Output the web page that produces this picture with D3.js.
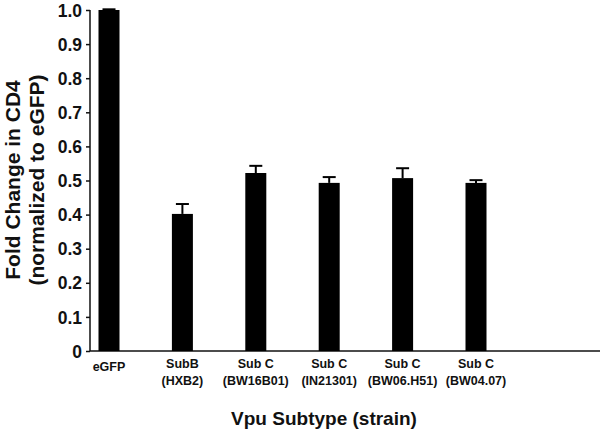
<!DOCTYPE html>
<html><head><meta charset="utf-8">
<script src="https://cdn.jsdelivr.net/npm/d3@7"></script>
<style>body{margin:0;background:#fff}svg{display:block}text{font-family:"Liberation Sans",Arial,Helvetica,sans-serif;font-weight:bold;fill:#111}</style>
</head><body><svg id="c" width="600" height="432"></svg>
<script>
const categories = ["eGFP", "SubB|(HXB2)", "Sub C|(BW16B01)", "Sub C|(IN21301)", "Sub C|(BW06.H51)", "Sub C|(BW04.07)"];
const values = [1.0, 0.402, 0.522, 0.493, 0.507, 0.493];
const errors = [0.002, 0.029, 0.021, 0.017, 0.029, 0.008];
const yTicks = [0, 0.1, 0.2, 0.3, 0.4, 0.5, 0.6, 0.7, 0.8, 0.9, 1.0];

const svg = d3.select("#c");
const y = d3.scaleLinear().domain([0, 1]).range([351, 10]);
const x = d3.scalePoint().domain(categories).range([109, 476]);
const bw = 21;

// y axis
const ya = svg.append("g").attr("transform", "translate(90,0)")
  .call(d3.axisLeft(y).tickValues(yTicks).tickSize(4).tickPadding(4)
    .tickFormat(d => d === 0 ? "0" : d3.format(".1f")(d)));
ya.select(".domain").attr("stroke", "#111").attr("stroke-width", 1.5).attr("d", "M0," + y(1) + "V" + y(0));
ya.selectAll(".tick line").attr("stroke", "#111").attr("stroke-width", 1.5);
ya.selectAll(".tick text").attr("font-size", 17.5).attr("fill", "#111").attr("dy", "0.35em");

// x axis line
svg.append("line").attr("x1", 90).attr("x2", 600).attr("y1", y(0)).attr("y2", y(0))
  .attr("stroke", "#111").attr("stroke-width", 1.5);

// bars
svg.selectAll("rect.bar").data(values).enter().append("rect")
  .attr("x", (d, i) => x(categories[i]) - bw / 2)
  .attr("y", d => y(d)).attr("width", bw).attr("height", d => y(0) - y(d))
  .attr("fill", "#000");

// error bars
const eg = svg.append("g").attr("stroke", "#000").attr("stroke-width", 2);
values.forEach((v, i) => {
  const cx = x(categories[i]);
  eg.append("line").attr("x1", cx).attr("x2", cx).attr("y1", y(v)).attr("y2", y(v + errors[i]));
  eg.append("line").attr("x1", cx - 6.5).attr("x2", cx + 6.5).attr("y1", y(v + errors[i])).attr("y2", y(v + errors[i]));
});

// category labels
categories.forEach(c => {
  const parts = c.split("|");
  const t = svg.append("text").attr("text-anchor", "middle").attr("font-size", 12.5)
    .attr("x", x(c)).attr("y", parts.length === 1 ? 371 : 368);
  parts.forEach((p, j) => t.append("tspan").attr("x", x(c)).attr("dy", j === 0 ? 0 : 17).text(p));
});

// axis titles
svg.append("text").attr("text-anchor", "middle").attr("font-size", 19)
  .attr("x", 324).attr("y", 425).text("Vpu Subtype (strain)");
const yt = svg.append("text").attr("text-anchor", "middle").attr("font-size", 21)
  .attr("transform", "translate(20,180) rotate(-90)");
yt.append("tspan").attr("x", 0).attr("y", 0).text("Fold Change in CD4");
yt.append("tspan").attr("x", 0).attr("y", 24).text("(normalized to eGFP)");
</script></body></html>
